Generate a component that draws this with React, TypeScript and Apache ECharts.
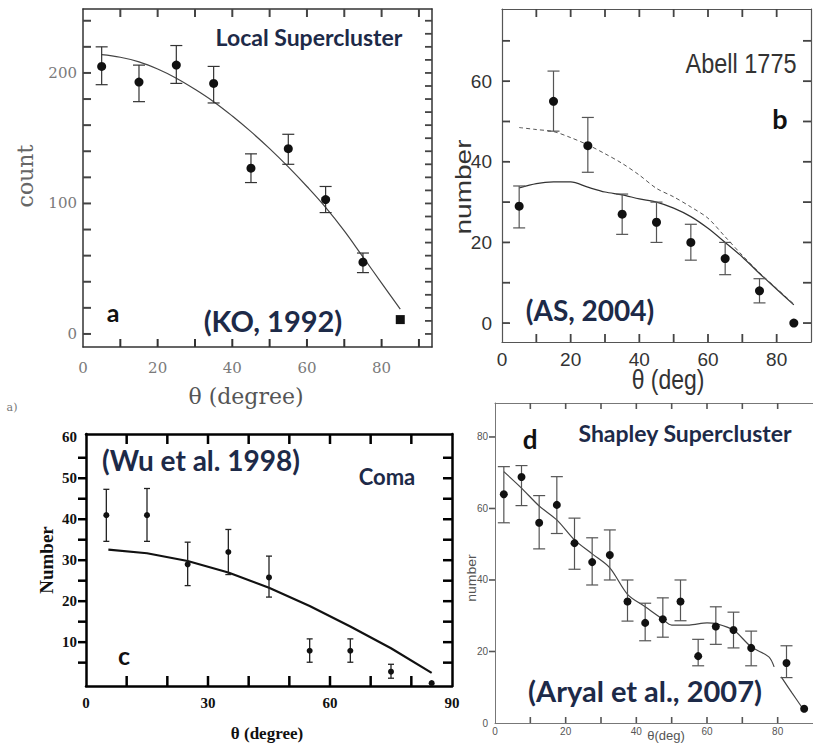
import React, { useEffect, useRef } from "react";
import * as echarts from "echarts";

// ---------- Panel a : Local Supercluster (KO, 1992) ----------
const A_THETA = [5, 15, 25, 35, 45, 55, 65, 75, 85];
const A_COUNT = [205, 193, 206, 192, 127, 142, 103, 55, 11];
const A_LO = [191, 178, 192, 177, 116, 130, 93, 47, null];
const A_HI = [220, 206, 221, 205, 138, 153, 113, 62, null];
const A_FIT_X = [5, 10, 15, 20, 25, 30, 35, 40, 45, 50, 55, 60, 65, 70, 75, 80, 85];
const A_FIT_Y = [214, 212, 208.5, 203, 196, 187.5, 178, 167, 155, 142, 128, 113, 97, 79, 59, 39, 19];
const A_XRANGE = [0, 93.5];
const A_YRANGE = [-10, 249];
const A_XTICKS = [10, 20, 30, 40, 50, 60, 70, 80, 90];
const A_XLABELS = [0, 20, 40, 60, 80];
const A_YTICKS = [0, 20, 40, 60, 80, 100, 120, 140, 160, 180, 200, 220, 240];
const A_YTICKS_RIGHT = [0, 10, 20, 30, 40, 50, 60, 70, 80, 90, 100, 110, 120, 130, 140, 150, 160, 170, 180, 190, 200, 210, 220, 230, 240];
const A_YLABELS = [0, 100, 200];

// ---------- Panel b : Abell 1775 (AS, 2004) ----------
const B_THETA = [5, 15, 25, 35, 45, 55, 65, 75, 85];
const B_NUM = [29, 55, 44, 27, 25, 20, 16, 8, 0];
const B_LO = [23.6, 47.6, 37.4, 22, 20, 15.6, 12, 5, null];
const B_HI = [34, 62.5, 51, 32, 30, 24.5, 20, 11, null];
const B_FIT_X = [5, 10, 15, 20, 25, 30, 35, 40, 45, 50, 55, 60, 65, 70, 75, 80, 85];
const B_SOLID_Y = [33.5, 34.6, 35, 35, 33.7, 32.5, 31.8, 30.8, 30, 28.5, 26.4, 23.5, 20, 16.4, 12.3, 8.4, 4.5];
const B_DASH_Y = [48.5, 48, 47.5, 46, 44.2, 42, 39.6, 36.7, 33.4, 31.3, 28.8, 26, 21.4, 16.8, 12.5, 8.6, 4.7];
const B_XRANGE = [0, 90];
const B_YRANGE = [-4.7, 77.9];
const B_XTICKS = [10, 20, 30, 40, 50, 60, 70, 80];
const B_XLABELS = [0, 20, 40, 60, 80];
const B_YTICKS = [0, 10, 20, 30, 40, 50, 60, 70];
const B_YLABELS = [0, 20, 40, 60];

// ---------- Panel c : Coma (Wu et al. 1998) ----------
const C_THETA = [5, 15, 25, 35, 45, 55, 65, 75, 85];
const C_NUM = [41, 41, 29, 32, 25.8, 7.9, 7.9, 2.8, 0];
const C_LO = [34.6, 34.6, 23.8, 26.5, 21, 5.1, 5.1, 1.2, null];
const C_HI = [47.3, 47.5, 34.4, 37.5, 31, 10.8, 10.8, 4.6, null];
const C_FIT_X = [5.5, 15, 25, 35, 45, 55, 65, 75, 85];
const C_FIT_Y = [32.6, 31.7, 29.8, 27, 23.3, 18.8, 13.8, 8.5, 2.5];
const C_XRANGE = [0, 90];
const C_YRANGE = [-0.7, 60.8];
const C_XTICKS = [10, 20, 30, 40, 50, 60, 70, 80];
const C_XLABELS = [0, 30, 60, 90];
const C_YTICKS = [5, 10, 15, 20, 25, 30, 35, 40, 45, 50, 55];
const C_YLABELS = [10, 20, 30, 40, 50, 60];

// ---------- Panel d : Shapley Supercluster (Aryal et al., 2007) ----------
const D_THETA = [2.5, 7.5, 12.5, 17.5, 22.5, 27.5, 32.5, 37.5, 42.5, 47.5, 52.5, 57.5, 62.5, 67.5, 72.5, 82.5, 87.5];
const D_NUM = [64, 68.8, 56, 61, 50.3, 45, 47, 34, 28, 29, 34, 18.7, 27, 26, 21, 16.8, 4];
const D_LO = [56, 60.8, 48.7, 53, 43, 38.6, 40, 28.5, 23, 24, 28.6, 16, 22, 21, 16, 12.7, null];
const D_HI = [71.7, 72, 63.6, 68.9, 57.3, 51.8, 54, 40, 33.5, 35, 40, 23.4, 32.5, 31, 25.7, 21.6, null];
const D_FIT1_X = [2.5, 7.5, 12.5, 17.5, 22.5, 27.5, 32.5, 37.5, 42.5, 47.5, 50, 55, 60, 62.5, 67.5, 72.5, 77.5, 79];
const D_FIT1_Y = [70.3, 65.7, 60.7, 56.8, 51.2, 47.3, 43.4, 36, 32.5, 29, 27.4, 27.4, 28, 27.8, 26, 21.3, 18.5, 15.7];
const D_FIT2_X = [81, 84, 87];
const D_FIT2_Y = [12.9, 8.5, 4.2];
const D_XRANGE = [0, 90];
const D_YRANGE = [0, 89.5];
const D_XTICKS = [10, 20, 30, 40, 50, 60, 70, 80];
const D_XLABELS = [0, 20, 40, 60, 80];
const D_YTICKS = [20, 40, 60, 80];
const D_YLABELS = [0, 20, 40, 60, 80];

const NAVY = "#1d2a48";
const ANNOT_FONT = "Lato, 'Open Sans', sans-serif";

const zip = (xs: number[], ys: (number | null)[]) => xs.map((x, i) => [x, ys[i]]);

function errBars(xi: number, yi: number, xs: number[], lo: (number | null)[], hi: (number | null)[], cap: number, color: string, width: number) {
  const data = xs.map((x, i) => (lo[i] == null ? null : [x, lo[i], hi[i]])).filter((d) => d != null);
  return {
    type: "custom",
    xAxisIndex: xi,
    yAxisIndex: yi,
    data,
    encode: { x: 0, y: [1, 2] },
    clip: false,
    silent: true,
    z: 3,
    renderItem: (params: any, api: any) => {
      const x = api.value(0);
      const p1 = api.coord([x, api.value(1)]);
      const p2 = api.coord([x, api.value(2)]);
      const st = { stroke: color, lineWidth: width };
      return {
        type: "group",
        children: [
          { type: "line", shape: { x1: p1[0], y1: p1[1], x2: p2[0], y2: p2[1] }, style: st },
          { type: "line", shape: { x1: p1[0] - cap, y1: p1[1], x2: p1[0] + cap, y2: p1[1] }, style: st },
          { type: "line", shape: { x1: p2[0] - cap, y1: p2[1], x2: p2[0] + cap, y2: p2[1] }, style: st },
        ],
      };
    },
  };
}

// tick marks on one frame side, drawn as thin rect symbols placed through the axis scales
type Side = "bottom" | "top" | "left" | "right";
function ticks(xi: number, yi: number, vals: number[], side: Side, edge: number, len: number, inward: boolean, color: string, width: number) {
  const vert = side === "bottom" || side === "top";
  const sign = inward ? 1 : -1;
  const off =
    side === "bottom" ? [0, (-sign * len) / 2] :
    side === "top" ? [0, (sign * len) / 2] :
    side === "left" ? [(sign * len) / 2, 0] : [(-sign * len) / 2, 0];
  return {
    type: "scatter",
    xAxisIndex: xi,
    yAxisIndex: yi,
    data: vals.map((v) => (vert ? [v, edge] : [edge, v])),
    symbol: "rect",
    symbolSize: vert ? [width, len] : [len, width],
    symbolOffset: off,
    itemStyle: { color, opacity: 1 },
    clip: false,
    z: 6,
  };
}

function axisPair(kind: "x" | "y", grid: number, range: number[], labels: number[], lineColor: string, lineWidth: number, label: any) {
  const mk = (main: boolean) => ({
    type: "value",
    gridIndex: grid,
    min: range[0],
    max: range[1],
    position: kind === "x" ? (main ? "bottom" : "top") : main ? "left" : "right",
    axisLine: { show: true, onZero: false, lineStyle: { color: lineColor, width: lineWidth } },
    axisTick: { show: false },
    axisLabel: main ? { show: true, customValues: labels, ...label } : { show: false },
    splitLine: { show: false },
  });
  return [mk(true), mk(false)];
}

function txt(x: number, y: number, text: string, style: any, extra: any = {}) {
  return {
    type: "text",
    x,
    y,
    silent: true,
    style: { text, align: "center", verticalAlign: "middle", ...style },
    ...extra,
  };
}

export default function App() {
  const ref = useRef<HTMLDivElement>(null);
  useEffect(() => {
    if (!ref.current) return;
    const chart = echarts.init(ref.current, null, { renderer: "svg" });

    const aLabel = { color: "#7a7a7a", fontFamily: "'DejaVu Serif', serif", fontSize: 15 };
    const bLabel = { color: "#333", fontFamily: "'Liberation Sans Narrow', 'Liberation Sans', Arial, sans-serif", fontSize: 19 };
    const cLabel = { color: "#111", fontFamily: "'Liberation Serif', serif", fontWeight: "bold", fontSize: 15 };
    const dLabel = { color: "#555", fontFamily: "'Liberation Sans Narrow', 'Liberation Sans', sans-serif", fontSize: 10 };

    const xAxis = [
      ...axisPair("x", 0, A_XRANGE, A_XLABELS, "#333", 1.5, { ...aLabel, margin: 13 }),
      ...axisPair("x", 1, B_XRANGE, B_XLABELS, "#555", 1.2, { ...bLabel, margin: 8 }),
      ...axisPair("x", 2, C_XRANGE, C_XLABELS, "#000", 2.5, { ...cLabel, margin: 9 }),
      ...axisPair("x", 3, D_XRANGE, D_XLABELS, "#777", 1, { ...dLabel, margin: 3 }),
    ];
    const yAxis = [
      ...axisPair("y", 0, A_YRANGE, A_YLABELS, "#333", 1.5, { ...aLabel, margin: 6 }),
      ...axisPair("y", 1, B_YRANGE, B_YLABELS, "#555", 1.2, { ...bLabel, margin: 10 }),
      ...axisPair("y", 2, C_YRANGE, C_YLABELS, "#000", 2.5, { ...cLabel, margin: 9 }),
      ...axisPair("y", 3, D_YRANGE, D_YLABELS, "#777", 1, { ...dLabel, margin: 7 }),
    ];

    const scatter = (xi: number, yi: number, xs: number[], ys: number[], size: number, color: string, symbol: any = "circle") => ({
      type: "scatter",
      xAxisIndex: xi,
      yAxisIndex: yi,
      data: zip(xs, ys),
      symbol,
      symbolSize: size,
      itemStyle: { color, opacity: 1 },
      clip: false,
      silent: true,
      z: 4,
    });
    const line = (xi: number, yi: number, xs: number[], ys: number[], color: string, width: number, type: any = "solid", smooth: any = 0.3) => ({
      type: "line",
      xAxisIndex: xi,
      yAxisIndex: yi,
      data: zip(xs, ys),
      smooth,
      showSymbol: false,
      lineStyle: { color, width, type },
      silent: true,
      z: 2,
    });

    const series = [
      // a
      ticks(0, 0, A_XTICKS, "bottom", A_YRANGE[0], 8, true, "#333", 2),
      ticks(0, 0, A_XTICKS, "top", A_YRANGE[1], 8, true, "#444", 2),
      ticks(0, 0, A_YTICKS, "left", A_XRANGE[0], 8, true, "#444", 2),
      ticks(0, 0, A_YTICKS_RIGHT, "right", A_XRANGE[1], 7, true, "#444", 1.8),
      line(0, 0, A_FIT_X, A_FIT_Y, "#444", 1.2, "solid", 0.4),
      errBars(0, 0, A_THETA, A_LO, A_HI, 6, "#333", 1.2),
      scatter(0, 0, A_THETA, A_COUNT, 9, "#111", (v: any, p: any) => (p.dataIndex === A_THETA.length - 1 ? "rect" : "circle")),
      // b
      ticks(2, 2, B_XTICKS, "bottom", B_YRANGE[0], 8, true, "#444", 1.8),
      ticks(2, 2, B_XTICKS, "top", B_YRANGE[1], 8, true, "#444", 1.8),
      ticks(2, 2, B_YTICKS, "left", B_XRANGE[0], 8, true, "#444", 1.8),
      ticks(2, 2, B_YTICKS, "right", B_XRANGE[1], 8, true, "#444", 1.8),
      line(2, 2, B_FIT_X, B_SOLID_Y, "#333", 1.2),
      line(2, 2, B_FIT_X, B_DASH_Y, "#555", 1, [4, 3]),
      errBars(2, 2, B_THETA, B_LO, B_HI, 6, "#555", 1.2),
      scatter(2, 2, B_THETA, B_NUM, 9, "#111"),
      // c
      ticks(4, 4, C_XTICKS, "bottom", C_YRANGE[0], 10, true, "#000", 2.5),
      ticks(4, 4, C_XTICKS, "top", C_YRANGE[1], 10, true, "#000", 2.5),
      ticks(4, 4, C_YTICKS, "left", C_XRANGE[0], 8, false, "#000", 2.5),
      ticks(4, 4, C_YTICKS, "right", C_XRANGE[1], 9, true, "#000", 2.5),
      line(4, 4, C_FIT_X, C_FIT_Y, "#111", 2.2, "solid", false),
      errBars(4, 4, C_THETA, C_LO, C_HI, 3, "#222", 1.3),
      scatter(4, 4, C_THETA, C_NUM, 6, "#111"),
      // d
      ticks(6, 6, D_XTICKS, "bottom", D_YRANGE[0], 6, true, "#555", 1.6),
      ticks(6, 6, D_XTICKS, "top", D_YRANGE[1], 6, true, "#555", 1.6),
      ticks(6, 6, D_YTICKS, "left", D_XRANGE[0], 6, false, "#555", 1.6),
      line(6, 6, D_FIT1_X, D_FIT1_Y, "#444", 1.2),
      line(6, 6, D_FIT2_X, D_FIT2_Y, "#444", 1.2),
      errBars(6, 6, D_THETA, D_LO, D_HI, 6, "#555", 1.2),
      scatter(6, 6, D_THETA, D_NUM, 8, "#111"),
    ];

    const graphic = [
      // a
      txt(309, 37, "Local Supercluster", { font: `bold 23px ${ANNOT_FONT}`, fill: NAVY }),
      txt(113, 312, "a", { font: `bold 25px ${ANNOT_FONT}`, fill: "#111" }),
      txt(273, 320, "(KO, 1992)", { font: `bold 29px ${ANNOT_FONT}`, fill: NAVY }),
      txt(25, 176, "count", { font: "22px 'DejaVu Serif', serif", fill: "#666" }, { rotation: Math.PI / 2 }),
      txt(246, 396, "θ (degree)", { font: "22px 'DejaVu Serif', serif", fill: "#555" }),
      txt(12, 407, "a)", { font: "11px 'DejaVu Serif', serif", fill: "#777" }),
      // b
      txt(741, 63, "Abell 1775", { font: "28px 'Liberation Sans', Arial, sans-serif", fill: "#333" }, { scaleX: 0.84 }),
      txt(780, 118, "b", { font: `bold 27px ${ANNOT_FONT}`, fill: "#111" }),
      txt(590, 310, "(AS, 2004)", { font: `bold 28px ${ANNOT_FONT}`, fill: NAVY }),
      txt(463, 187, "number", { font: "28px 'Liberation Sans', Arial, sans-serif", fill: "#333" }, { rotation: Math.PI / 2, scaleY: 0.82 }),
      txt(668, 379, "θ (deg)", { font: "28px 'Liberation Sans', Arial, sans-serif", fill: "#333" }, { scaleX: 0.82 }),
      // c
      txt(201, 460, "(Wu et al. 1998)", { font: `bold 28px ${ANNOT_FONT}`, fill: NAVY }),
      txt(387, 476, "Coma", { font: `bold 22px ${ANNOT_FONT}`, fill: NAVY }),
      txt(124, 655, "c", { font: `bold 25px ${ANNOT_FONT}`, fill: "#111" }),
      txt(46, 560, "Number", { font: "bold 19px 'Liberation Serif', serif", fill: "#111" }, { rotation: Math.PI / 2 }),
      txt(267, 733, "θ (degree)", { font: "bold 17px 'Liberation Serif', serif", fill: "#111" }),
      // d
      txt(530, 439, "d", { font: `bold 26px ${ANNOT_FONT}`, fill: "#111" }),
      txt(685, 433, "Shapley Supercluster", { font: `bold 23px ${ANNOT_FONT}`, fill: NAVY }),
      txt(645, 690, "(Aryal et al., 2007)", { font: `bold 29px ${ANNOT_FONT}`, fill: NAVY }),
      txt(472, 578, "number", { font: "14px 'Liberation Sans', Arial, sans-serif", fill: "#555" }, { rotation: Math.PI / 2, scaleY: 0.85 }),
      txt(666, 735, "θ(deg)", { font: "13px 'Liberation Sans', Arial, sans-serif", fill: "#555" }),
    ];

    chart.setOption({
      animation: false,
      backgroundColor: "#ffffff",
      grid: [
        { left: 83, top: 9, width: 349, height: 338 },
        { left: 502, top: 9, width: 309, height: 333 },
        { left: 86, top: 434, width: 366, height: 252 },
        { left: 495, top: 403, width: 326, height: 320 },
      ],
      xAxis,
      yAxis,
      series,
      graphic,
    });
    return () => chart.dispose();
  }, []);
  return <div ref={ref} style={{ position: "absolute", left: 0, top: 0, width: 813, height: 755 }} />;
}
